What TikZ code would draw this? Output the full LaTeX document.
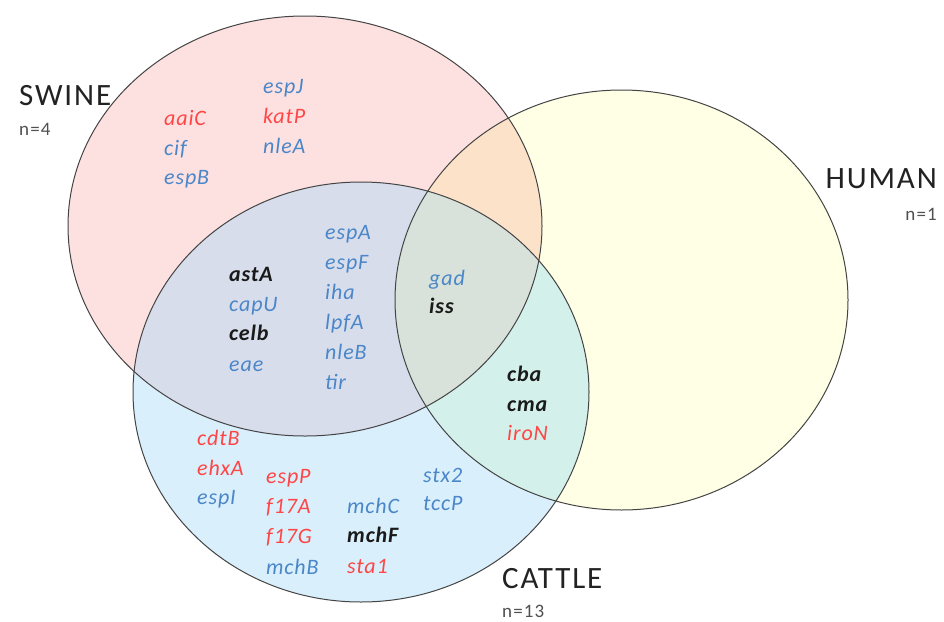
\documentclass[tikz,border=0pt]{standalone}
\usepackage{fontspec}
\setmainfont{Carlito}
\newfontfamily\genefont[LetterSpace=4]{Carlito}
\newfontfamily\labfont[LetterSpace=6]{Carlito}
\begin{document}
\begin{tikzpicture}[x=1pt,y=-1pt,
  gene/.style={anchor=base west,inner sep=0pt,font=\genefont\fontsize{22}{24}\selectfont\itshape},
  gb/.style={gene,text=gblue},
  gr/.style={gene,text=gred},
  gk/.style={gene,text=gblack,font=\genefont\fontsize{22}{24}\selectfont\itshape\bfseries},
  big/.style={inner sep=0pt,text=labgray,font=\labfont\fontsize{31}{33}\selectfont},
  small/.style={inner sep=0pt,text=ngray,font=\labfont\fontsize{19}{21}\selectfont},
  outline/.style={draw=lineg,line width=1pt}]
\definecolor{gblue}{HTML}{4A86C8}
\definecolor{gred}{HTML}{FF4545}
\definecolor{gblack}{HTML}{1A1A1A}
\definecolor{labgray}{HTML}{222222}
\definecolor{ngray}{HTML}{505050}
\definecolor{lineg}{HTML}{444444}
\definecolor{cpink}{HTML}{FDE1E1}
\definecolor{cyel}{HTML}{FFFFE6}
\definecolor{cblue}{HTML}{D9EFFC}
\definecolor{clav}{HTML}{D8DDEC}
\definecolor{cpeach}{HTML}{FCE2C8}
\definecolor{cteal}{HTML}{D4F0EA}
\definecolor{cmid}{HTML}{D8E2DB}
\useasboundingbox (0,0) rectangle (944,621);
\fill[white] (0,0) rectangle (944,621);
\def\swine{(305,226) ellipse [x radius=237,y radius=210]}
\def\human{(621.5,300) ellipse [x radius=226.5,y radius=210]}
\def\cattle{(361,392) ellipse [x radius=228,y radius=210]}
\fill[cpink] \swine;
\fill[cyel] \human;
\fill[cblue] \cattle;
\begin{scope}\clip \swine; \fill[cpeach] \human; \end{scope}
\begin{scope}\clip \swine; \fill[clav] \cattle; \end{scope}
\begin{scope}\clip \human; \fill[cteal] \cattle; \end{scope}
\begin{scope}\clip \swine; \clip \human; \fill[cmid] \cattle; \end{scope}
\draw[outline] \swine;
\draw[outline] \human;
\draw[outline] \cattle;
% labels
\node[big,anchor=base west] (sw) at (19,105) {SWINE};
\node[small,anchor=base west] (swn) at (19,135) {n=4};
\node[big,anchor=base east] (hu) at (937,188) {HUMAN};
\node[small,anchor=base east] (hun) at (937,220) {n=1};
\node[big,anchor=base west] (ca) at (502,588) {CATTLE};
\node[small,anchor=base west] (can) at (502,617) {n=13};
% swine only
\node[gr] (g1) at (164,125) {aaiC};
\node[gb] (g2) at (164,155) {cif};
\node[gb] (g3) at (164,184) {espB};
\node[gb] (g4) at (263,93) {espJ};
\node[gr] (g5) at (263,123) {katP};
\node[gb] (g6) at (263,153) {nleA};
% swine & cattle
\node[gk] (g7) at (229,281) {astA};
\node[gb] (g8) at (229,311) {capU};
\node[gk] (g9) at (229,340) {celb};
\node[gb] (g10) at (229,371) {eae};
\node[gb] (g11) at (325,239) {espA};
\node[gb] (g12) at (325,269) {espF};
\node[gb] (g13) at (325,299) {iha};
\node[gb] (g14) at (325,329) {lpfA};
\node[gb] (g15) at (325,359) {nleB};
\node[gb] (g16) at (325,389) {tir};
% all three
\node[gb] (g17) at (429,285) {gad};
\node[gk] (g18) at (429,313) {iss};
% cattle & human
\node[gk] (g19) at (507,381) {cba};
\node[gk] (g20) at (507,411) {cma};
\node[gr] (g21) at (507,440) {iroN};
% cattle only
\node[gr] (g22) at (197,445) {cdtB};
\node[gr] (g23) at (197,475) {ehxA};
\node[gb] (g24) at (197,504) {espI};
\node[gr] (g25) at (266,483) {espP};
\node[gr] (g26) at (266,513) {f17A};
\node[gr] (g27) at (266,543) {f17G};
\node[gb] (g28) at (266,574) {mchB};
\node[gb] (g29) at (347,513) {mchC};
\node[gk] (g30) at (347,542) {mchF};
\node[gr] (g31) at (347,573) {sta1};
\node[gb] (g32) at (423,482) {stx2};
\node[gb] (g33) at (423,510) {tccP};
\end{tikzpicture}
\end{document}
